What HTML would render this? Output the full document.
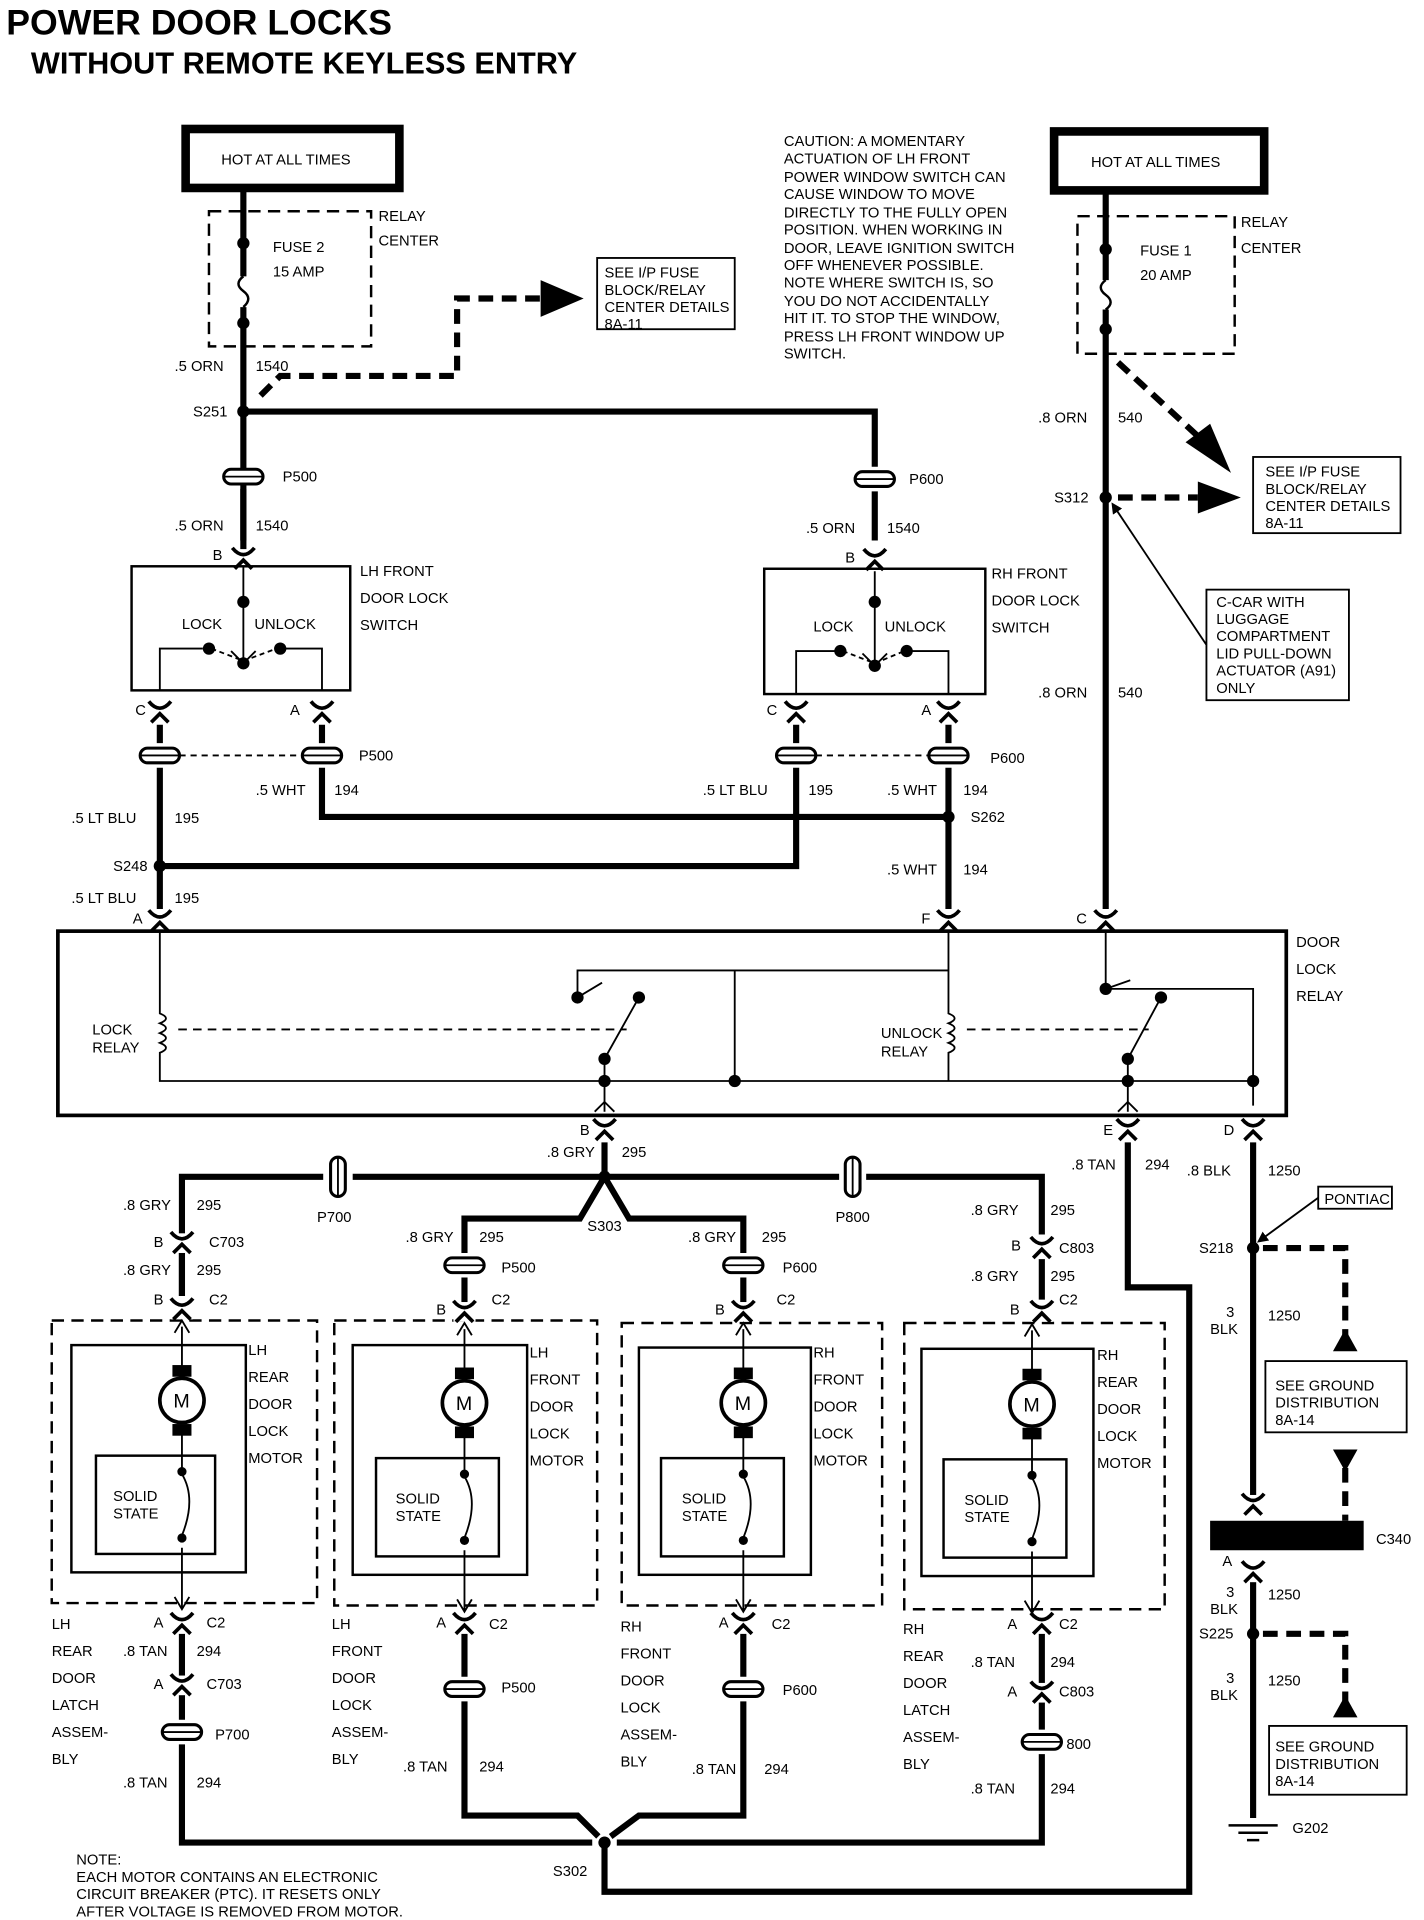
<!DOCTYPE html>
<html><head><meta charset="utf-8"><style>
html,body{margin:0;padding:0;background:#fff}
svg{display:block}
text{font-family:"Liberation Sans",sans-serif;font-size:12px;fill:#000}
.t{font-weight:bold}
</style></head><body>
<svg width="1424" height="1920" viewBox="0 0 1159 1563" xmlns="http://www.w3.org/2000/svg">
<defs>
<g id="pc"><rect x="-16" y="-6" width="32" height="12" rx="6" fill="#fff" stroke="#000" stroke-width="2.5"/><line x1="-16" y1="0" x2="16" y2="0" stroke="#000" stroke-width="1.5"/></g>
<g id="fc"><rect x="-9" y="-8" width="18" height="16" fill="#fff"/><path d="M-9,-9 Q0,2 9,-9" fill="none" stroke="#000" stroke-width="3"/><path d="M-7,8 L0,1 L7,8" fill="none" stroke="#000" stroke-width="3"/></g>
<g id="dot"><circle r="5" fill="#000"/></g>
<marker id="ah" markerWidth="6" markerHeight="6" refX="2" refY="3" orient="auto"><path d="M0,0 L6,3 L0,6z" fill="#000"/></marker>
</defs>
<rect width="1159" height="1563" fill="#fff"/>
<text x="5" y="28" class="t" style="font-size:29px">POWER DOOR LOCKS</text>
<text x="25" y="60" class="t" style="font-size:25px">WITHOUT REMOTE KEYLESS ENTRY</text>

<rect x="151" y="105" width="174" height="48" fill="none" stroke="#000" stroke-width="7"/>
<text x="180" y="134">HOT AT ALL TIMES</text>
<rect x="858" y="107" width="171" height="48" fill="none" stroke="#000" stroke-width="7"/>
<text x="888" y="136">HOT AT ALL TIMES</text>

<g fill="none" stroke="#000" stroke-width="2" stroke-dasharray="10,6">
<rect x="170" y="172" width="132" height="110"/>
<rect x="877" y="176" width="128" height="112"/>
<rect x="42" y="1075" width="216" height="230"/>
<rect x="272" y="1075" width="214" height="232"/>
<rect x="506" y="1077" width="212" height="230"/>
<rect x="736" y="1077" width="212" height="233"/>
</g>
<text x="308" y="180">RELAY</text><text x="308" y="200">CENTER</text>
<text x="1010" y="185">RELAY</text><text x="1010" y="206">CENTER</text>
<text x="222" y="205">FUSE 2</text><text x="222" y="225">15 AMP</text>
<text x="928" y="208">FUSE 1</text><text x="928" y="228">20 AMP</text>

<g fill="none" stroke="#000" stroke-width="5">
<path d="M198,155 V225 M198,250 V455"/>
<path d="M198,335 H712 V380"/>
<path d="M198,398 V440"/>
<path d="M712,400 V440"/>
<path d="M900,158 V228 M900,252 V740"/>
<path d="M130,590 V605 M130,625 V705 H648 V625 M648,605 V590"/>
<path d="M262,590 V605 M262,625 V665 H772 M772,590 V605 M772,625 V740"/>
<path d="M130,705 V740"/>
<path d="M492,930 V958 M148,1055 V958 H263 M287,958 H683 M705,958 H848 V1005"/>
<path d="M492,958 L472,992 H378 V1020 M492,958 L512,992 H605 V1020"/>
<path d="M148,1020 V1055"/>
<path d="M378,1040 V1060 M605,1040 V1060 M848,1025 V1058"/>
<path d="M148,1330 V1400 M148,1420 V1500 H482"/>
<path d="M378,1330 V1365 M378,1385 V1478 H470 L487,1495"/>
<path d="M605,1330 V1365 M605,1385 V1478 H520 L497,1495"/>
<path d="M848,1330 V1408 M848,1428 V1500 H502"/>
<path d="M492,1500 V1540 H968 V1048 H918 V930"/>
<path d="M1020,930 V1225 M1020,1275 V1480"/>
</g>
<path d="M198,225 q-8,6 0,12 q8,6 0,13" fill="none" stroke="#000" stroke-width="2"/>
<path d="M900,228 q-8,6 0,12 q8,6 0,12" fill="none" stroke="#000" stroke-width="2"/>
<use href="#dot" x="198" y="198"/><use href="#dot" x="198" y="263"/>
<use href="#dot" x="900" y="203"/><use href="#dot" x="900" y="268"/>

<g fill="none" stroke="#000" stroke-width="5" stroke-dasharray="12,7">
<path d="M212,322 L228,306 H372 V243 H440"/>
<path d="M910,295 L975,355"/>
<path d="M910,405 H975"/>
<path d="M1028,1016 H1095 V1090"/>
<path d="M1095,1195 V1238"/>
<path d="M1028,1330 H1095 V1385"/>
</g>
<path d="M440,228 L475,243 L440,258z"/>
<path d="M965,360 L1002,385 L985,345z"/>
<path d="M975,392 L1010,405 L975,418z"/>
<path d="M1085,1100 L1095,1082 L1105,1100z"/>
<path d="M1085,1180 L1095,1198 L1105,1180z"/>
<path d="M1085,1398 L1095,1380 L1105,1398z"/>

<rect x="486" y="210" width="112" height="58" fill="none" stroke="#000" stroke-width="1.5"/>
<text x="492" y="226">SEE I/P FUSE</text><text x="492" y="240">BLOCK/RELAY</text><text x="492" y="254">CENTER DETAILS</text><text x="492" y="268">8A-11</text>
<rect x="1020" y="372" width="120" height="62" fill="none" stroke="#000" stroke-width="1.5"/>
<text x="1030" y="388">SEE I/P FUSE</text><text x="1030" y="402">BLOCK/RELAY</text><text x="1030" y="416">CENTER DETAILS</text><text x="1030" y="430">8A-11</text>
<rect x="982" y="480" width="116" height="90" fill="none" stroke="#000" stroke-width="1.5"/>
<text x="990" y="494">C-CAR WITH</text><text x="990" y="508">LUGGAGE</text><text x="990" y="522">COMPARTMENT</text><text x="990" y="536">LID PULL-DOWN</text><text x="990" y="550">ACTUATOR (A91)</text><text x="990" y="564">ONLY</text>
<line x1="982" y1="525" x2="908" y2="414" stroke="#000" stroke-width="1.5" marker-end="url(#ah)"/>
<rect x="1030" y="1108" width="115" height="58" fill="none" stroke="#000" stroke-width="1.5"/>
<text x="1038" y="1132">SEE GROUND</text><text x="1038" y="1146">DISTRIBUTION</text><text x="1038" y="1160">8A-14</text>
<rect x="1033" y="1405" width="112" height="56" fill="none" stroke="#000" stroke-width="1.5"/>
<text x="1038" y="1426">SEE GROUND</text><text x="1038" y="1440">DISTRIBUTION</text><text x="1038" y="1454">8A-14</text>
<rect x="1073" y="966" width="60" height="18" fill="none" stroke="#000" stroke-width="1.5"/>
<text x="1078" y="980">PONTIAC</text>
<line x1="1073" y1="975" x2="1028" y2="1008" stroke="#000" stroke-width="1.5" marker-end="url(#ah)"/>

<g>
<text x="638" y="119">CAUTION: A MOMENTARY</text><text x="638" y="133">ACTUATION OF LH FRONT</text><text x="638" y="148">POWER WINDOW SWITCH CAN</text><text x="638" y="162">CAUSE WINDOW TO MOVE</text><text x="638" y="177">DIRECTLY TO THE FULLY OPEN</text><text x="638" y="191">POSITION. WHEN WORKING IN</text><text x="638" y="206">DOOR, LEAVE IGNITION SWITCH</text><text x="638" y="220">OFF WHENEVER POSSIBLE.</text><text x="638" y="234">NOTE WHERE SWITCH IS, SO</text><text x="638" y="249">YOU DO NOT ACCIDENTALLY</text><text x="638" y="263">HIT IT. TO STOP THE WINDOW,</text><text x="638" y="278">PRESS LH FRONT WINDOW UP</text><text x="638" y="292">SWITCH.</text>
</g>

<use href="#dot" x="198" y="335"/><use href="#dot" x="900" y="405"/><use href="#dot" x="772" y="665"/><use href="#dot" x="130" y="705"/>
<use href="#dot" x="492" y="958"/><use href="#dot" x="1020" y="1016"/><use href="#dot" x="1020" y="1330"/><use href="#dot" x="492" y="1500"/>
<text x="157" y="339">S251</text><text x="858" y="409">S312</text><text x="790" y="669">S262</text><text x="92" y="709">S248</text>
<text x="478" y="1002">S303</text><text x="976" y="1020">S218</text><text x="976" y="1334">S225</text><text x="450" y="1527">S302</text>

<use href="#pc" x="198" y="388"/><use href="#pc" x="712" y="390"/>
<use href="#pc" x="130" y="615"/><use href="#pc" x="262" y="615"/><use href="#pc" x="648" y="615"/><use href="#pc" x="772" y="615"/>
<line x1="146" y1="615" x2="246" y2="615" stroke="#000" stroke-width="1.5" stroke-dasharray="5,4"/>
<line x1="664" y1="615" x2="756" y2="615" stroke="#000" stroke-width="1.5" stroke-dasharray="5,4"/>
<use href="#pc" x="378" y="1030"/><use href="#pc" x="605" y="1030"/>
<use href="#pc" x="378" y="1375"/><use href="#pc" x="605" y="1375"/><use href="#pc" x="148" y="1410"/><use href="#pc" x="848" y="1418"/>
<g transform="translate(275,958) rotate(90)"><use href="#pc"/></g>
<g transform="translate(694,958) rotate(90)"><use href="#pc"/></g>
<text x="230" y="392">P500</text><text x="740" y="394">P600</text><text x="292" y="619">P500</text><text x="806" y="621">P600</text>
<text x="408" y="1036">P500</text><text x="637" y="1036">P600</text><text x="408" y="1378">P500</text><text x="637" y="1380">P600</text><text x="175" y="1416">P700</text><text x="868" y="1424">800</text>
<text x="258" y="995">P700</text><text x="680" y="995">P800</text>

<g>
<use href="#fc" x="198" y="455"/><use href="#fc" x="712" y="456"/>
<use href="#fc" x="130" y="580"/><use href="#fc" x="262" y="580"/><use href="#fc" x="648" y="580"/><use href="#fc" x="772" y="580"/>
<use href="#fc" x="130" y="750"/><use href="#fc" x="772" y="750"/><use href="#fc" x="900" y="750"/>
<use href="#fc" x="492" y="920"/><use href="#fc" x="918" y="920"/><use href="#fc" x="1020" y="920"/>
<use href="#fc" x="148" y="1012"/><use href="#fc" x="848" y="1016"/>
<use href="#fc" x="148" y="1066"/><use href="#fc" x="378" y="1068"/><use href="#fc" x="605" y="1068"/><use href="#fc" x="848" y="1068"/>
<use href="#fc" x="148" y="1322"/><use href="#fc" x="378" y="1322"/><use href="#fc" x="605" y="1322"/><use href="#fc" x="848" y="1322"/>
<use href="#fc" x="148" y="1372"/><use href="#fc" x="848" y="1378"/>
<use href="#fc" x="1020" y="1225"/><use href="#fc" x="1020" y="1280"/>
</g>
<text x="173" y="456">B</text><text x="688" y="458">B</text><text x="110" y="582">C</text><text x="236" y="582">A</text><text x="624" y="582">C</text><text x="750" y="582">A</text>
<text x="108" y="752">A</text><text x="750" y="752">F</text><text x="876" y="752">C</text>
<text x="472" y="924">B</text><text x="898" y="924">E</text><text x="996" y="924">D</text>
<text x="125" y="1015">B</text><text x="170" y="1015">C703</text><text x="823" y="1018">B</text><text x="862" y="1020">C803</text>
<text x="125" y="1062">B</text><text x="170" y="1062">C2</text><text x="355" y="1070">B</text><text x="400" y="1062">C2</text><text x="582" y="1070">B</text><text x="632" y="1062">C2</text><text x="822" y="1070">B</text><text x="862" y="1062">C2</text>
<text x="125" y="1325">A</text><text x="168" y="1325">C2</text><text x="355" y="1325">A</text><text x="398" y="1326">C2</text><text x="585" y="1325">A</text><text x="628" y="1326">C2</text><text x="820" y="1326">A</text><text x="862" y="1326">C2</text>
<text x="125" y="1375">A</text><text x="168" y="1375">C703</text><text x="820" y="1381">A</text><text x="862" y="1381">C803</text>
<text x="995" y="1275">A</text><text x="1120" y="1257">C340</text>
<rect x="985" y="1238" width="125" height="24" fill="#000"/>

<g>
<text x="142" y="302">.5 ORN</text><text x="208" y="302">1540</text>
<text x="142" y="432">.5 ORN</text><text x="208" y="432">1540</text>
<text x="656" y="434">.5 ORN</text><text x="722" y="434">1540</text>
<text x="845" y="344">.8 ORN</text><text x="910" y="344">540</text>
<text x="845" y="568">.8 ORN</text><text x="910" y="568">540</text>
<text x="208" y="647">.5 WHT</text><text x="272" y="647">194</text>
<text x="572" y="647">.5 LT BLU</text><text x="658" y="647">195</text>
<text x="722" y="647">.5 WHT</text><text x="784" y="647">194</text>
<text x="58" y="670">.5 LT BLU</text><text x="142" y="670">195</text>
<text x="722" y="712">.5 WHT</text><text x="784" y="712">194</text>
<text x="58" y="735">.5 LT BLU</text><text x="142" y="735">195</text>
<text x="445" y="942">.8 GRY</text><text x="506" y="942">295</text>
<text x="872" y="952">.8 TAN</text><text x="932" y="952">294</text>
<text x="966" y="957">.8 BLK</text><text x="1032" y="957">1250</text>
<text x="100" y="985">.8 GRY</text><text x="160" y="985">295</text>
<text x="100" y="1038">.8 GRY</text><text x="160" y="1038">295</text>
<text x="330" y="1011">.8 GRY</text><text x="390" y="1011">295</text>
<text x="560" y="1011">.8 GRY</text><text x="620" y="1011">295</text>
<text x="790" y="989">.8 GRY</text><text x="855" y="989">295</text>
<text x="790" y="1043">.8 GRY</text><text x="855" y="1043">295</text>
<text x="100" y="1348">.8 TAN</text><text x="160" y="1348">294</text>
<text x="790" y="1357">.8 TAN</text><text x="855" y="1357">294</text>
<text x="100" y="1455">.8 TAN</text><text x="160" y="1455">294</text>
<text x="328" y="1442">.8 TAN</text><text x="390" y="1442">294</text>
<text x="563" y="1444">.8 TAN</text><text x="622" y="1444">294</text>
<text x="790" y="1460">.8 TAN</text><text x="855" y="1460">294</text>
<text x="998" y="1072">3</text><text x="985" y="1086">BLK</text><text x="1032" y="1075">1250</text>
<text x="998" y="1300">3</text><text x="985" y="1314">BLK</text><text x="1032" y="1302">1250</text>
<text x="998" y="1370">3</text><text x="985" y="1384">BLK</text><text x="1032" y="1372">1250</text>
<text x="1052" y="1492">G202</text>
</g>
<path d="M1000,1486 H1040 M1008,1492 H1032 M1015,1498 H1025" stroke="#000" stroke-width="2"/>

<rect x="107" y="461" width="178" height="101" fill="none" stroke="#000" stroke-width="2"/>
<rect x="622" y="463" width="180" height="102" fill="none" stroke="#000" stroke-width="2"/>
<text x="293" y="469">LH FRONT</text><text x="293" y="491">DOOR LOCK</text><text x="293" y="513">SWITCH</text>
<text x="807" y="471">RH FRONT</text><text x="807" y="493">DOOR LOCK</text><text x="807" y="515">SWITCH</text>
<g fill="none" stroke="#000" stroke-width="1.5">
<path d="M198,462 V540 M188,530 L198,540 L208,530"/>
<path d="M130,562 V528 H165 M262,562 V528 H232"/>
<path d="M172,528 L198,538 L225,528" stroke-dasharray="4,3"/>
<path d="M712,465 V542 M702,532 L712,542 L722,532"/>
<path d="M648,565 V530 H680 M772,565 V530 H742"/>
<path d="M686,530 L712,540 L736,530" stroke-dasharray="4,3"/>
</g>
<use href="#dot" x="170" y="528"/><use href="#dot" x="228" y="528"/><use href="#dot" x="198" y="490"/><use href="#dot" x="198" y="540"/>
<use href="#dot" x="684" y="530"/><use href="#dot" x="738" y="530"/><use href="#dot" x="712" y="490"/><use href="#dot" x="712" y="542"/>
<text x="148" y="512">LOCK</text><text x="207" y="512">UNLOCK</text>
<text x="662" y="514">LOCK</text><text x="720" y="514">UNLOCK</text>

<rect x="47" y="758" width="1000" height="150" fill="none" stroke="#000" stroke-width="3"/>
<text x="1055" y="771">DOOR</text><text x="1055" y="793">LOCK</text><text x="1055" y="815">RELAY</text>
<text x="75" y="842">LOCK</text><text x="75" y="857">RELAY</text>
<text x="717" y="845">UNLOCK</text><text x="717" y="860">RELAY</text>
<g fill="none" stroke="#000" stroke-width="1.5">
<path d="M130,758 V825 q10,4 0,8 q10,4 0,8 q10,4 0,8 q10,4 0,8 V880 H1020 V900"/>
<path d="M772,758 V825 q10,4 0,8 q10,4 0,8 q10,4 0,8 q10,4 0,8 V880"/>
<path d="M772,790 H470 V812 M772,790 H598 V880"/>
<path d="M900,758 V805 H1020 V880"/>
<path d="M470,812 L490,800 M520,812 L492,862 M492,862 V905"/>
<path d="M900,805 L920,798 M945,812 L918,862 M918,862 V905"/>
<path d="M145,838 H510" stroke-dasharray="7,5"/>
<path d="M787,838 H935" stroke-dasharray="7,5"/>
<path d="M484,905 L492,897 L500,905 M910,905 L918,897 L926,905"/>
</g>
<use href="#dot" x="470" y="812"/><use href="#dot" x="520" y="812"/><use href="#dot" x="492" y="862"/><use href="#dot" x="598" y="880"/>
<use href="#dot" x="900" y="805"/><use href="#dot" x="945" y="812"/><use href="#dot" x="918" y="862"/><use href="#dot" x="1020" y="880"/><use href="#dot" x="492" y="880"/><use href="#dot" x="918" y="880"/>

<g fill="none" stroke="#000" stroke-width="2">
<rect x="58" y="1095" width="142" height="185"/><rect x="78" y="1185" width="97" height="80"/>
<rect x="287" y="1095" width="142" height="187"/><rect x="306" y="1187" width="100" height="80"/>
<rect x="520" y="1097" width="140" height="185"/><rect x="538" y="1187" width="100" height="80"/>
<rect x="750" y="1098" width="140" height="185"/><rect x="768" y="1188" width="100" height="80"/>
</g>
<g id="m1" fill="none" stroke="#000" stroke-width="1.5">
<path d="M148,1080 V1118 M148,1162 V1195 M148,1260 V1310 M142,1300 L148,1310 L154,1300 M142,1085 L148,1075 L154,1085"/>
<path d="M148,1200 q12,20 0,50" />
<circle cx="148" cy="1140" r="18" stroke-width="3"/>
<rect x="141" y="1112" width="14" height="8" fill="#000"/><rect x="141" y="1160" width="14" height="8" fill="#000"/>
<circle cx="148" cy="1198" r="3" fill="#000"/><circle cx="148" cy="1252" r="3" fill="#000"/>
</g>
<use href="#m1" x="230" y="2"/><use href="#m1" x="457" y="2"/><use href="#m1" x="692" y="3"/>
<text x="141" y="1146" style="font-size:16px">M</text><text x="371" y="1148" style="font-size:16px">M</text><text x="598" y="1148" style="font-size:16px">M</text><text x="833" y="1149" style="font-size:16px">M</text>
<text x="92" y="1222">SOLID</text><text x="92" y="1236">STATE</text>
<text x="322" y="1224">SOLID</text><text x="322" y="1238">STATE</text>
<text x="555" y="1224">SOLID</text><text x="555" y="1238">STATE</text>
<text x="785" y="1225">SOLID</text><text x="785" y="1239">STATE</text>
<g>
<text x="202" y="1103">LH</text><text x="202" y="1125">REAR</text><text x="202" y="1147">DOOR</text><text x="202" y="1169">LOCK</text><text x="202" y="1191">MOTOR</text>
<text x="431" y="1105">LH</text><text x="431" y="1127">FRONT</text><text x="431" y="1149">DOOR</text><text x="431" y="1171">LOCK</text><text x="431" y="1193">MOTOR</text>
<text x="662" y="1105">RH</text><text x="662" y="1127">FRONT</text><text x="662" y="1149">DOOR</text><text x="662" y="1171">LOCK</text><text x="662" y="1193">MOTOR</text>
<text x="893" y="1107">RH</text><text x="893" y="1129">REAR</text><text x="893" y="1151">DOOR</text><text x="893" y="1173">LOCK</text><text x="893" y="1195">MOTOR</text>
<text x="42" y="1326">LH</text><text x="42" y="1348">REAR</text><text x="42" y="1370">DOOR</text><text x="42" y="1392">LATCH</text><text x="42" y="1414">ASSEM-</text><text x="42" y="1436">BLY</text>
<text x="270" y="1326">LH</text><text x="270" y="1348">FRONT</text><text x="270" y="1370">DOOR</text><text x="270" y="1392">LOCK</text><text x="270" y="1414">ASSEM-</text><text x="270" y="1436">BLY</text>
<text x="505" y="1328">RH</text><text x="505" y="1350">FRONT</text><text x="505" y="1372">DOOR</text><text x="505" y="1394">LOCK</text><text x="505" y="1416">ASSEM-</text><text x="505" y="1438">BLY</text>
<text x="735" y="1330">RH</text><text x="735" y="1352">REAR</text><text x="735" y="1374">DOOR</text><text x="735" y="1396">LATCH</text><text x="735" y="1418">ASSEM-</text><text x="735" y="1440">BLY</text>
</g>
<text x="62" y="1518">NOTE:</text><text x="62" y="1532">EACH MOTOR CONTAINS AN ELECTRONIC</text><text x="62" y="1546">CIRCUIT BREAKER (PTC). IT RESETS ONLY</text><text x="62" y="1560">AFTER VOLTAGE IS REMOVED FROM MOTOR.</text>
</svg>
</body></html>
